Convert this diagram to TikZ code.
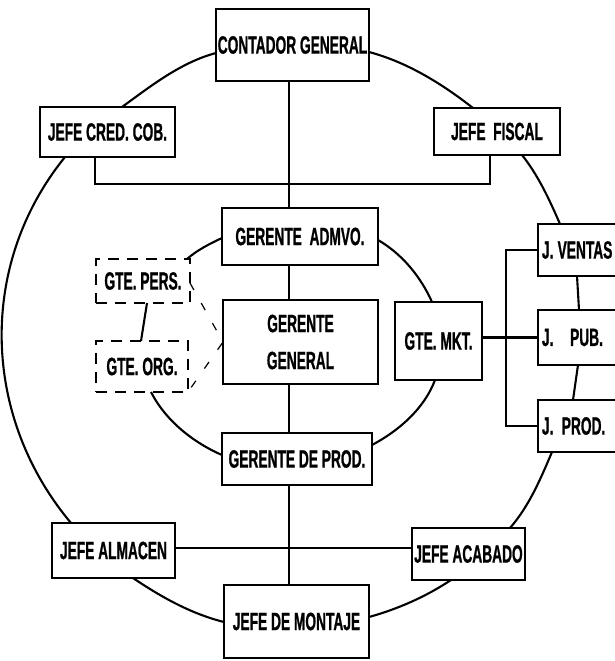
\documentclass[tikz,border=0pt]{standalone}
\usepackage{fontspec}
\setmainfont{Liberation Sans}[FakeStretch=0.55, BoldFeatures={FakeBold=0.8}]
\newcommand\boxfont{\bfseries\fontsize{25pt}{30pt}\selectfont}
\begin{document}
\begin{tikzpicture}[
  x=1pt, y=1pt,
  line width=2.1pt,
  box/.style={draw, fill=white, outer sep=0pt, inner sep=0pt, font=\boxfont, align=center},
  staffbox/.style={box, dash pattern=on 11pt off 8pt, line width=2.3pt},
  sidebox/.style={draw, fill=white, outer sep=0pt, inner xsep=4pt, inner ysep=0pt,
                  anchor=west, text width=100pt, align=left, font=\boxfont},
  ringlink/.style={looseness=0.86},
  staffline/.style={line width=1.2pt, dash pattern=on 8pt off 15pt},
]
\useasboundingbox (0,0) rectangle (615,-661);
\clip (0,0) rectangle (615,-661);

% ---- boxes ----
\node[box, minimum width=153pt, minimum height=72pt] (cg)  at (292.5,-45)  {CONTADOR GENERAL};
\node[box, minimum width=135pt, minimum height=50pt] (jcc) at (107.5,-132) {JEFE CRED. COB.};
\node[box, minimum width=126pt, minimum height=47pt] (jf)  at (497,-131.5) {JEFE\ \ FISCAL};
\node[box, minimum width=156pt, minimum height=57pt] (ga)  at (300,-236.5) {GERENTE\ \ ADMVO.};
\node[staffbox, minimum width=94pt, minimum height=44pt] (gp) at (143,-281)   {GTE. PERS.};
\node[staffbox, minimum width=92pt, minimum height=51pt] (go) at (142,-366.5) {GTE. ORG.};
\node[box, minimum width=155pt, minimum height=84pt] (gg)  at (300.5,-342) {GERENTE\\[7pt]GENERAL};
\node[box, minimum width=87pt,  minimum height=78pt] (gm)  at (438.5,-341) {GTE. MKT.};
\node[sidebox, minimum height=52pt] (jv)  at (538,-250)   {J.\,VENTAS};
\node[sidebox, minimum height=55pt] (jp)  at (538,-337.5) {J.\ \ PUB.};
\node[sidebox, minimum height=52pt] (jpr) at (538,-426)   {J. PROD.};
\node[box, minimum width=150pt, minimum height=52pt] (gpd) at (297,-459)   {GERENTE DE PROD.};
\node[box, minimum width=123pt, minimum height=55pt] (ja)  at (113.5,-550.5) {JEFE ALMACEN};
\node[box, minimum width=113pt, minimum height=52pt] (jac) at (468.5,-554) {JEFE ACABADO};
\node[box, minimum width=145pt, minimum height=73pt] (jm)  at (296.5,-621.5) {JEFE DE MONTAJE};

% ---- helper coordinates for the tree lines ----
\coordinate (ax)   at (289,0);
\coordinate (barL) at (95,-184);
\coordinate (barR) at (490,-184);
\coordinate (hb)   at (0,-548);
\coordinate (brk)  at (506,0);

% ---- hierarchy lines ----
\draw (cg.south -| ax)  -- (ga.north -| ax);
\draw (ga.south -| ax)  -- (gg.north -| ax);
\draw (gg.south -| ax)  -- (gpd.north -| ax);
\draw (gpd.south -| ax) -- (jm.north -| ax);
\draw (jcc.south -| barL) -- (barL) -- (barR) -- (jf.south -| barR);
\draw (ja.east |- hb) -- (jac.west |- hb);
\draw (gm.east |- jp.west) -- (jp.west);
\draw (jv.west) -- (jv.west -| brk) -- (jpr.west -| brk) -- (jpr.west);

% ---- outer ring ----
\draw[ringlink] ([yshift=-8pt]cg.west) to[out=195,in=36] ([xshift=82pt]jcc.north west);
\draw[ringlink] ([yshift=-7pt]cg.east) to[out=-15,in=142] ([xshift=39pt]jf.north west);
\draw ([xshift=25pt]jcc.south west) to[out=231,in=130,looseness=0.97] ([xshift=19pt]ja.north west);
\draw[ringlink] ([xshift=-38pt]jf.south east) to[out=-51.5,in=113.6] ([xshift=22pt]jv.north west);
\draw ([xshift=39pt]jv.south west) -- ([xshift=41pt]jp.north west);
\draw ([xshift=40pt]jp.south west) -- ([xshift=35pt]jpr.north west);
\draw[ringlink] ([xshift=14pt]jpr.south west) to[out=-113,in=49] ([xshift=98pt]jac.north west);
\draw[ringlink] ([xshift=39pt]jac.south west) to[out=-146.5,in=15.5] ([yshift=4.5pt]jm.east);
\draw[ringlink] ([yshift=-0.5pt]jm.west) to[out=166,in=-34] ([xshift=81pt]ja.south west);

% ---- inner ring ----
\draw[ringlink] ([yshift=-1.5pt]ga.west) to[out=205,in=41] ([xshift=-3pt]gp.north east);
\draw ([xshift=4pt]gp.south) -- ([xshift=-1pt]go.north);
\draw[ringlink] ([xshift=9pt]go.south) to[out=-63,in=156.5] ([yshift=4pt]gpd.west);
\draw[ringlink] ([yshift=-12pt]gpd.north east) to[out=28,in=249.6] ([xshift=-3.5pt]gm.south);
\draw[ringlink] ([xshift=-6.5pt]gm.north) to[out=114,in=-30] ([yshift=-3.5pt]ga.east);

% ---- staff links ----
\draw[staffline] ([yshift=-2pt]gp.east) -- (gg.west) -- (go.south east);
\end{tikzpicture}
\end{document}
